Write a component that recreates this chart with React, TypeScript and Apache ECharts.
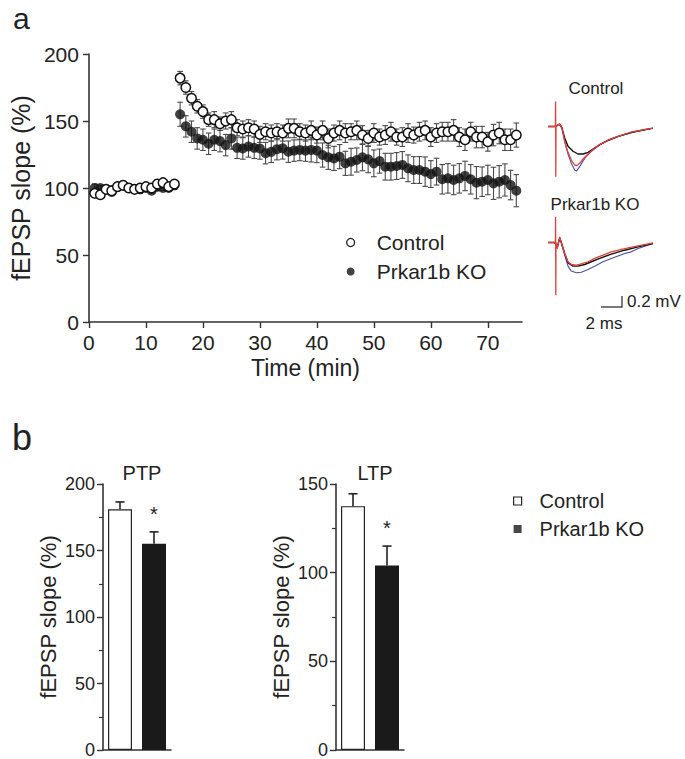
import React, { useEffect, useRef } from "react";
import * as echarts from "echarts";

const FONT = '"Liberation Sans", Arial, Helvetica, sans-serif';
const AXIS = "#333";
const INK = "#222";

// ---- panel a: time course ----
const MINUTES = [
  1, 2, 3, 4, 5, 6, 7, 8, 9, 10, 11, 12, 13, 14, 15, 16, 17, 18, 19, 20, 21, 22, 23, 24, 25,
  26, 27, 28, 29, 30, 31, 32, 33, 34, 35, 36, 37, 38, 39, 40, 41, 42, 43, 44, 45, 46, 47, 48, 49, 50,
  51, 52, 53, 54, 55, 56, 57, 58, 59, 60, 61, 62, 63, 64, 65, 66, 67, 68, 69, 70, 71, 72, 73, 74, 75,
];
const CONTROL_MEAN = [
  96, 95, 99, 98, 101, 102, 100, 99, 100, 101, 100, 103, 104, 101, 103,
  182, 175, 167, 161, 157, 151, 151, 148, 150, 151, 145, 144, 145, 144, 140, 142, 141,
  142, 141, 144.5, 144.5, 142, 141, 143, 139.5, 143, 137, 141, 143, 141, 142, 143, 139.5, 137, 141,
  138, 139.5, 142, 138, 138, 141, 139.5, 142, 143, 138, 141, 142, 142, 143, 138, 136, 142, 138, 138,
  134.5, 139.5, 141, 136, 136, 139.5,
];
const CONTROL_SEM = [
  3, 2, 2, 2, 3, 2, 2, 2, 2, 2, 2, 3, 2, 2, 2,
  5, 5, 5, 5, 5, 5, 6, 5, 6, 6, 6, 6, 6, 6, 6, 6, 6,
  6, 6, 7, 7, 6, 6, 7, 6, 7, 7, 6, 7, 7, 6, 7, 7, 6, 7, 6, 7, 7, 6, 7, 7, 6, 7, 7, 7, 7, 7, 7, 8, 7,
  8, 7, 8, 8, 7, 8, 8, 8, 8, 9,
];
const KO_MEAN = [
  100, 100, 99, 97, 101, 102, 100, 99, 99, 100, 98, 101, 100, 100, 102,
  155, 146, 142, 137, 136, 133, 136, 135, 132, 137, 130, 129.5, 131, 130, 129.5, 126, 127,
  129, 129.6, 127.1, 127.9, 128.4, 127.9, 128.4, 127.9, 124.6, 122.9, 122.1, 123.4, 118.4, 119.6,
  120.9, 122.9, 121.4, 118.4, 120.1, 115.9, 115.9, 116.4, 117.2, 114.7, 113.4, 113.4, 112.2, 110.4,
  112.2, 106.5, 107.2, 106, 107.2, 109, 106.5, 104, 104.7, 106, 103.5, 104.7, 106, 102.2, 98,
];
const KO_SEM = [
  3, 2, 3, 2, 2, 3, 2, 2, 3, 2, 2, 3, 2, 2, 3,
  9, 8, 8, 8, 8, 8, 8, 8, 8, 8, 8, 8, 8, 8, 8, 8, 8,
  8, 8, 8, 8, 8, 8, 9, 9, 9, 9, 9, 9, 9, 10, 9, 10, 10, 10, 9, 10, 10, 10, 10, 10, 10, 10, 11, 10,
  10, 11, 11, 11, 11, 11, 11, 12, 11, 11, 12, 12, 12, 11, 12,
];
const X_TICKS = [0, 10, 20, 30, 40, 50, 60, 70];

// ---- panel b: bars ----
const GROUPS = ["Control", "Prkar1b KO"];
const PTP_MEAN = [181, 155];
const PTP_SEM = [5.5, 9];
const LTP_MEAN = [137.5, 104];
const LTP_SEM = [7, 11];
const SIGNIF = ["", "*"];

// ---- example traces (ms, mV) ----
const CTRL_BLACK = [
  [0, 0], [0.67, 0], [0.93, 0.018], [1.17, 0.042], [1.4, -0.03], [1.67, -0.21], [2.0, -0.36],
  [2.5, -0.45], [3.0, -0.5], [3.5, -0.5], [4.0, -0.47], [4.5, -0.41], [5.17, -0.33], [6.0, -0.25],
  [7.0, -0.18], [8.33, -0.11], [9.67, -0.06], [10.5, -0.03],
];
const CTRL_RED = [
  [0, 0], [0.74, 0], [0.76, 0.455], [0.78, -0.915], [0.8, 0], [0.93, 0.02], [1.17, 0.045], [1.4, -0.03],
  [1.67, -0.27], [2.0, -0.47], [2.33, -0.61], [2.67, -0.7], [2.9, -0.71], [3.17, -0.67], [3.5, -0.59],
  [4.0, -0.5], [4.5, -0.42], [5.17, -0.33], [6.0, -0.25], [7.0, -0.18], [8.33, -0.1], [9.67, -0.055],
  [10.5, -0.03],
];
const CTRL_BLUE = [
  [0, 0], [0.67, 0], [0.93, 0.02], [1.17, 0.04], [1.4, -0.03], [1.67, -0.28], [2.0, -0.5], [2.33, -0.67],
  [2.67, -0.79], [2.83, -0.81], [3.17, -0.73], [3.5, -0.625], [3.83, -0.545], [4.33, -0.455],
  [4.83, -0.38], [5.33, -0.32], [6.0, -0.26], [7.0, -0.185], [8.33, -0.11], [9.67, -0.06], [10.5, -0.035],
];
const KO_BLACK = [
  [0, 0], [0.67, 0], [0.93, -0.08], [1.17, 0.08], [1.33, 0], [1.67, -0.2], [2.0, -0.37], [2.5, -0.43],
  [3.0, -0.43], [3.67, -0.4], [4.33, -0.35], [5.17, -0.29], [6.33, -0.21], [7.67, -0.14], [9.0, -0.08],
  [10.5, -0.02],
];
const KO_RED = [
  [0, 0], [0.74, 0], [0.76, 0.467], [0.78, -0.96], [0.8, 0], [0.93, -0.11], [1.17, 0.1], [1.33, 0],
  [1.67, -0.2], [2.0, -0.35], [2.33, -0.4], [2.83, -0.41], [3.33, -0.39], [4.0, -0.35], [4.67, -0.29],
  [5.5, -0.23], [6.33, -0.17], [7.67, -0.11], [9.0, -0.06], [10.5, -0.006],
];
const KO_BLUE = [
  [0, 0], [0.67, 0], [0.93, -0.08], [1.17, 0.08], [1.33, 0], [1.67, -0.23], [2.0, -0.43], [2.33, -0.52],
  [2.83, -0.55], [3.33, -0.54], [4.0, -0.49], [4.67, -0.43], [5.5, -0.35], [6.33, -0.29], [7.67, -0.2],
  [8.33, -0.17], [9.0, -0.11], [10.5, -0.02],
];

const RED = "#e2403b";
const BLUE = "#4b4fa6";

function errRender(capW: number, both: boolean, color: string) {
  return (params: any, api: any) => {
    const x = api.value(0);
    const y = api.value(1);
    const e = api.value(2);
    const hi = api.coord([x, y + e]);
    const lo = api.coord(both ? [x, y - e] : [x, y]);
    const style = { stroke: color, lineWidth: 1.1 };
    const children: any[] = [
      { type: "line", shape: { x1: hi[0], y1: hi[1], x2: hi[0], y2: lo[1] }, style },
      { type: "line", shape: { x1: hi[0] - capW, y1: hi[1], x2: hi[0] + capW, y2: hi[1] }, style },
    ];
    if (both) children.push({ type: "line", shape: { x1: lo[0] - capW, y1: lo[1], x2: lo[0] + capW, y2: lo[1] }, style });
    return { type: "group", children };
  };
}

function barErrRender(params: any, api: any) {
  const x = api.value(0);
  const y = api.value(1);
  const e = api.value(2);
  const star = SIGNIF[x];
  const top = api.coord([x, y + e]);
  const base = api.coord([x, y]);
  const style = { stroke: INK, lineWidth: 1.6 };
  const children: any[] = [
    { type: "line", shape: { x1: top[0], y1: top[1], x2: top[0], y2: base[1] }, style },
    { type: "line", shape: { x1: top[0] - 4.5, y1: top[1], x2: top[0] + 4.5, y2: top[1] }, style },
  ];
  if (star) {
    children.push({
      type: "text",
      style: { text: star, x: top[0], y: top[1] - 8, align: "center", verticalAlign: "bottom", fontSize: 20, fontFamily: FONT, fill: INK },
    });
  }
  return { type: "group", children };
}

function buildOption() {
  const ctrlPts = MINUTES.map((m, i) => [m, CONTROL_MEAN[i]]);
  const koPts = MINUTES.map((m, i) => [m, KO_MEAN[i]]);
  const ctrlErr = MINUTES.map((m, i) => [m, CONTROL_MEAN[i], CONTROL_SEM[i] ?? 0]);
  const koErr = MINUTES.map((m, i) => [m, KO_MEAN[i], KO_SEM[i] ?? 0]);

  const axisLine = { show: true, lineStyle: { color: AXIS, width: 1.6 } };
  const barYAxis = (max: number, gridIndex: number) => ({
    type: "value",
    gridIndex,
    min: 0,
    max,
    interval: 50,
    name: "fEPSP slope (%)",
    nameLocation: "middle",
    nameGap: 44,
    nameTextStyle: { fontSize: 22, fontFamily: FONT, color: INK },
    axisLine,
    axisTick: { show: true, length: 6, lineStyle: { color: AXIS, width: 1.4 } },
    minorTick: { show: true, splitNumber: 2, length: 4, lineStyle: { color: AXIS, width: 1.2 } },
    splitLine: { show: false },
    axisLabel: { fontSize: 18, fontFamily: FONT, color: INK, margin: 8 },
  });
  const barXAxis = (gridIndex: number) => ({
    type: "category",
    gridIndex,
    data: GROUPS,
    axisLine,
    axisTick: { show: false },
    axisLabel: { show: false },
  });
  const traceX = (gridIndex: number) => ({ type: "value", gridIndex, min: 0, max: 10.5, show: false });
  const traceY = (gridIndex: number) => ({ type: "value", gridIndex, min: -1, max: 0.5, show: false });
  const trace = (data: number[][], color: string, width: number, idx: number) => ({
    type: "line",
    xAxisIndex: idx,
    yAxisIndex: idx,
    data,
    showSymbol: false,
    symbol: "none",
    clip: false,
    silent: true,
    lineStyle: { color, width },
  });

  return {
    animation: false,
    backgroundColor: "#fff",
    textStyle: { fontFamily: FONT },
    title: [
      { text: "PTP", left: 137, top: 458, textAlign: "center", textStyle: { fontSize: 20, fontWeight: "normal", fontFamily: FONT, color: INK } },
      { text: "LTP", left: 370, top: 458, textAlign: "center", textStyle: { fontSize: 20, fontWeight: "normal", fontFamily: FONT, color: INK } },
    ],
    legend: [
      {
        orient: "vertical",
        left: 341,
        top: 227,
        itemWidth: 42,
        itemHeight: 8,
        itemGap: 8,
        textStyle: { fontSize: 21, fontFamily: FONT, color: INK },
        data: [
          { name: "Control", icon: "circle", itemStyle: { color: "#fff", borderColor: INK, borderWidth: 1.3 } },
          { name: "Prkar1b KO", icon: "circle", itemStyle: { color: "#111", borderWidth: 0 } },
        ],
        selectedMode: false,
      },
      {
        orient: "vertical",
        left: 508,
        top: 486,
        itemWidth: 34,
        itemHeight: 8,
        itemGap: 8,
        textStyle: { fontSize: 20, fontFamily: FONT, color: INK },
        data: [
          { name: "Control", icon: "path://M0,0L8,0L8,8L0,8Z", itemStyle: { color: "#fff", borderColor: INK, borderWidth: 1.2 } },
          { name: "Prkar1b KO", icon: "path://M0,0L8,0L8,8L0,8Z", itemStyle: { color: "#1a1a1a", borderWidth: 0 } },
        ],
        selectedMode: false,
      },
    ],
    grid: [
      { left: 86, top: 54, width: 436, height: 268 },
      { left: 103, top: 484, width: 68, height: 268 },
      { left: 336, top: 484, width: 68, height: 268 },
      { left: 548, top: 99, width: 105, height: 82.5 },
      { left: 548, top: 215, width: 105, height: 82.5 },
    ],
    xAxis: [
      {
        type: "value",
        gridIndex: 0,
        min: 0,
        max: 76,
        interval: 10,
        name: "Time (min)",
        nameLocation: "middle",
        nameGap: 34,
        nameTextStyle: { fontSize: 23, fontFamily: FONT, color: INK },
        axisLine,
        axisTick: { show: true, length: 6, customValues: X_TICKS, lineStyle: { color: AXIS, width: 1.4 } },
        axisLabel: { fontSize: 21, fontFamily: FONT, color: INK, margin: 10, customValues: X_TICKS },
        splitLine: { show: false },
      },
      barXAxis(1),
      barXAxis(2),
      traceX(3),
      traceX(4),
    ],
    yAxis: [
      {
        type: "value",
        gridIndex: 0,
        min: 0,
        max: 200,
        interval: 50,
        name: "fEPSP slope (%)",
        nameLocation: "middle",
        nameGap: 52,
        nameTextStyle: { fontSize: 25, fontFamily: FONT, color: INK },
        axisLine,
        axisTick: { show: true, length: 6, lineStyle: { color: AXIS, width: 1.4 } },
        axisLabel: { fontSize: 21, fontFamily: FONT, color: INK, margin: 10 },
        splitLine: { show: false },
      },
      barYAxis(200, 1),
      barYAxis(150, 2),
      traceY(3),
      traceY(4),
    ],
    series: [
      { type: "custom", xAxisIndex: 0, yAxisIndex: 0, data: koErr, renderItem: errRender(2.8, true, "#4a4a4a"), encode: { x: 0, y: 1 }, silent: true, z: 2 },
      {
        name: "Prkar1b KO",
        type: "scatter",
        xAxisIndex: 0,
        yAxisIndex: 0,
        data: koPts,
        symbol: "circle",
        symbolSize: 10,
        itemStyle: { color: "#111" },
        z: 3,
      },
      { type: "custom", xAxisIndex: 0, yAxisIndex: 0, data: ctrlErr, renderItem: errRender(2.8, true, "#4a4a4a"), encode: { x: 0, y: 1 }, silent: true, z: 4 },
      {
        name: "Control",
        type: "scatter",
        xAxisIndex: 0,
        yAxisIndex: 0,
        data: ctrlPts,
        symbol: "circle",
        symbolSize: 9.5,
        itemStyle: { color: "#fff", borderColor: "#111", borderWidth: 1.5, opacity: 1 },
        z: 5,
      },
      // PTP bars
      {
        name: "Control",
        type: "bar",
        xAxisIndex: 1,
        yAxisIndex: 1,
        data: [PTP_MEAN[0], "-"],
        barWidth: 24,
        barGap: "-100%",
        itemStyle: { color: "#fff", borderColor: INK, borderWidth: 1.2 },
      },
      {
        name: "Prkar1b KO",
        type: "bar",
        xAxisIndex: 1,
        yAxisIndex: 1,
        data: ["-", PTP_MEAN[1]],
        barWidth: 24,
        barGap: "-100%",
        itemStyle: { color: "#1a1a1a" },
      },
      {
        type: "custom",
        xAxisIndex: 1,
        yAxisIndex: 1,
        data: PTP_MEAN.map((v, i) => [i, v, PTP_SEM[i]]),
        renderItem: barErrRender,
        encode: { x: 0, y: 1 },
        silent: true,
        z: 3,
      },
      // LTP bars
      {
        name: "Control",
        type: "bar",
        xAxisIndex: 2,
        yAxisIndex: 2,
        data: [LTP_MEAN[0], "-"],
        barWidth: 24,
        barGap: "-100%",
        itemStyle: { color: "#fff", borderColor: INK, borderWidth: 1.2 },
      },
      {
        name: "Prkar1b KO",
        type: "bar",
        xAxisIndex: 2,
        yAxisIndex: 2,
        data: ["-", LTP_MEAN[1]],
        barWidth: 24,
        barGap: "-100%",
        itemStyle: { color: "#1a1a1a" },
      },
      {
        type: "custom",
        xAxisIndex: 2,
        yAxisIndex: 2,
        data: LTP_MEAN.map((v, i) => [i, v, LTP_SEM[i]]),
        renderItem: barErrRender,
        encode: { x: 0, y: 1 },
        silent: true,
        z: 3,
      },
      // traces
      trace(CTRL_BLUE, BLUE, 1.1, 3),
      trace(CTRL_BLACK, "#111", 1.4, 3),
      trace(CTRL_RED, RED, 1.3, 3),
      trace(KO_BLUE, BLUE, 1.1, 4),
      trace(KO_BLACK, "#111", 1.4, 4),
      trace(KO_RED, RED, 1.3, 4),
    ],
    graphic: [
      { type: "text", left: 13, top: 3, style: { text: "a", fontSize: 30, fontFamily: FONT, fill: INK } },
      { type: "text", left: 12, top: 419, style: { text: "b", fontSize: 36, fontFamily: FONT, fill: INK } },
      { type: "text", x: 596, y: 88, style: { text: "Control", fontSize: 17, fontFamily: FONT, fill: INK, align: "center", verticalAlign: "middle" } },
      { type: "text", x: 595, y: 204, style: { text: "Prkar1b KO", fontSize: 17, fontFamily: FONT, fill: INK, align: "center", verticalAlign: "middle" } },
      { type: "line", shape: { x1: 601, y1: 307, x2: 622, y2: 307 }, style: { stroke: INK, lineWidth: 1.2 } },
      { type: "line", shape: { x1: 622, y1: 296, x2: 622, y2: 307.6 }, style: { stroke: INK, lineWidth: 1.2 } },
      { type: "text", x: 627, y: 301, style: { text: "0.2 mV", fontSize: 17, fontFamily: FONT, fill: INK, align: "left", verticalAlign: "middle" } },
      { type: "text", x: 604, y: 323, style: { text: "2 ms", fontSize: 17, fontFamily: FONT, fill: INK, align: "center", verticalAlign: "middle" } },
    ],
  };
}

export default function App() {
  const ref = useRef<HTMLDivElement>(null);
  useEffect(() => {
    if (!ref.current) return;
    const chart = echarts.init(ref.current, null, { renderer: "svg" });
    chart.setOption(buildOption() as any);
    return () => chart.dispose();
  }, []);
  return (
    <div
      ref={ref}
      style={{ position: "absolute", left: 0, top: 0, width: 685, height: 759, background: "#fff" }}
    />
  );
}
